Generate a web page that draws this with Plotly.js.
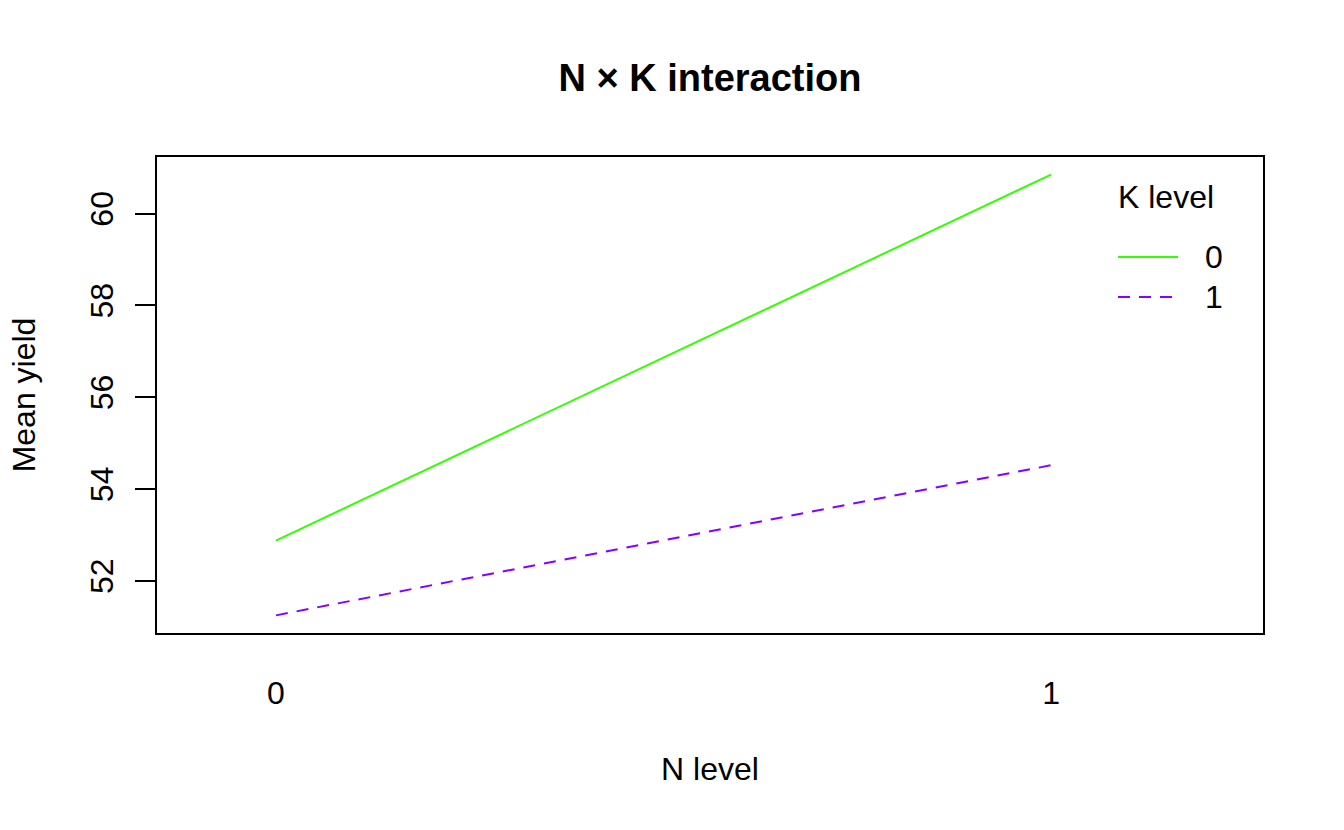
<!DOCTYPE html>
<html>
<head>
<meta charset="utf-8">
<script src="https://cdn.plot.ly/plotly-3.0.1.min.js"></script>
<style>html,body{margin:0;padding:0;background:#fff;}#chart{width:1344px;height:830px;}</style>
</head>
<body>
<div id="chart"></div>
<script>
// Data (npk N x K interaction means)
var nLevels = [0, 1];
var nLabels = ['0', '1'];
var kLevels = ['0', '1'];
var meanK0 = [52.88, 60.85];
var meanK1 = [51.25, 54.52];
var seriesColors = ['#33FF00', '#8800FF'];
var seriesDash = ['solid', '12px,9px'];
var legendTitle = 'K level';

var FONT = '"Liberation Sans", Arial, sans-serif';

var traces = [
  {x: nLevels, y: meanK0, name: kLevels[0], type: 'scatter', mode: 'lines',
   line: {color: seriesColors[0], width: 2, dash: seriesDash[0]}, showlegend: false},
  {x: nLevels, y: meanK1, name: kLevels[1], type: 'scatter', mode: 'lines',
   line: {color: seriesColors[1], width: 2, dash: seriesDash[1]}, showlegend: false}
];

// R-style legend drawn inside the plot box
var legX0 = 0.8689, legX1 = 0.9232, legLabelX = 0.9455;
var legTitleY = 0.916, legRowY = [0.7899, 0.7059];
var shapes = kLevels.map(function (k, i) {
  return {type: 'line', xref: 'paper', yref: 'paper',
          x0: legX0, x1: legX1, y0: legRowY[i], y1: legRowY[i],
          line: {color: seriesColors[i], width: 2, dash: seriesDash[i]}};
});
var annotations = [{
  xref: 'paper', yref: 'paper', x: legX0 - 0.002, y: legTitleY, xanchor: 'left', yanchor: 'middle',
  text: legendTitle, showarrow: false, font: {family: FONT, size: 32, color: '#000'}
}].concat(kLevels.map(function (k, i) {
  return {xref: 'paper', yref: 'paper', x: legLabelX, y: legRowY[i], xanchor: 'left', yanchor: 'middle',
          text: k, showarrow: false, font: {family: FONT, size: 32, color: '#000'}};
}));

var layout = {
  width: 1344, height: 830,
  paper_bgcolor: '#fff', plot_bgcolor: '#fff',
  margin: {l: 157, r: 81, t: 157, b: 197},
  font: {family: FONT, size: 32, color: '#000'},
  title: {text: '<b>N × K interaction</b>', font: {family: FONT, size: 38, color: '#000'},
          x: 0.5, xanchor: 'center', y: 0.906, yanchor: 'middle', xref: 'paper'},
  xaxis: {
    range: [-0.1535, 1.2735],
    tickvals: nLevels, ticktext: nLabels,
    ticks: '', showgrid: false, zeroline: false,
    showline: true, mirror: true, linecolor: '#000', linewidth: 2,
    ticklabelstandoff: 31,
    tickfont: {family: FONT, size: 32, color: '#000'},
    title: {text: 'N level', font: {family: FONT, size: 32, color: '#000'}, standoff: 47}
  },
  yaxis: {
    range: [50.866, 61.234],
    tickvals: [52, 54, 56, 58, 60],
    ticks: 'outside', ticklen: 20, tickwidth: 2, tickcolor: '#000',
    tickangle: -90,
    showgrid: false, zeroline: false,
    showline: true, mirror: true, linecolor: '#000', linewidth: 2,
    ticklabelstandoff: 9,
    tickfont: {family: FONT, size: 32, color: '#000'},
    title: {text: 'Mean yield', font: {family: FONT, size: 32, color: '#000'}, standoff: 39}
  },
  showlegend: false,
  shapes: shapes,
  annotations: annotations
};

Plotly.newPlot('chart', traces, layout, {displayModeBar: false, staticPlot: true});
</script>
</body>
</html>
